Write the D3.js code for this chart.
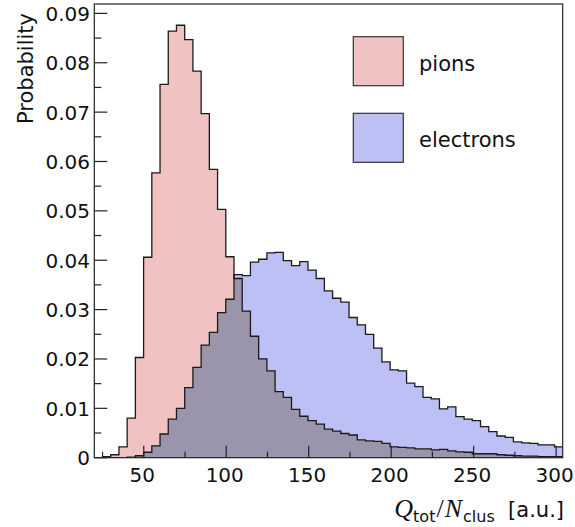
<!DOCTYPE html>
<html>
<head>
<meta charset="utf-8">
<script src="https://cdn.jsdelivr.net/npm/d3@7"></script>
<style>
  html, body { margin: 0; padding: 0; background: #fff; }
  svg { display: block; }
</style>
</head>
<body>
<svg id="chart" width="575" height="527"></svg>
<script>
// ---- data ----
const xDomain = [20, 304];
const nBins = 57;
const pions = [
  0, 0.0002, 0.0006, 0.0022, 0.0080, 0.0203, 0.0406, 0.0577, 0.0756, 0.0864,
  0.0876, 0.0847, 0.0783, 0.0697, 0.0584, 0.0503, 0.0407, 0.0363, 0.0297, 0.0246,
  0.0200, 0.0176, 0.0134, 0.0122, 0.0098, 0.0084, 0.0075, 0.0068, 0.0058, 0.0054,
  0.0049, 0.0046, 0.0036, 0.0034, 0.0033, 0.0029, 0.0022, 0.0021, 0.0020, 0.0018,
  0.0018, 0.0016, 0.0017, 0.0014, 0.0012, 0.0011, 0.0008, 0.0008, 0.0008, 0.0006,
  0.0005, 0.0004, 0.0003, 0.0003, 0.0002, 0.0002, 0.0002
];
const electrons = [
  0, 0, 0, 0, 0.0001, 0.0004, 0.0011, 0.0024, 0.0048, 0.0078,
  0.0100, 0.0142, 0.0183, 0.0228, 0.0254, 0.0294, 0.0321, 0.0371, 0.0369, 0.0396,
  0.0402, 0.0415, 0.0416, 0.0399, 0.0389, 0.0397, 0.0380, 0.0363, 0.0338, 0.0323,
  0.0315, 0.0284, 0.0269, 0.0250, 0.0222, 0.0194, 0.0178, 0.0176, 0.0151, 0.0144,
  0.0122, 0.0119, 0.0099, 0.0103, 0.0083, 0.0078, 0.0075, 0.0063, 0.0053, 0.0044,
  0.0041, 0.0032, 0.0030, 0.0029, 0.0026, 0.0026, 0.0022
];
const yTicks = [0, 0.01, 0.02, 0.03, 0.04, 0.05, 0.06, 0.07, 0.08, 0.09];
const yTickLabels = ["0", "0.01", "0.02", "0.03", "0.04", "0.05", "0.06", "0.07", "0.08", "0.09"];
const xTicks = [50, 100, 150, 200, 250, 300];
const xTickLabels = ["50", "100", "150", "200", "250", "300"];
const legendLabels = ["pions", "electrons"];

// ---- layout ----
const L = 94.3, R = 562.7, T = 4, B = 457.7;
const colPion = "#f0c2c2", colElec = "#bcc0f4", colOverlap = "#9b95ab";
const font = "'DejaVu Sans', sans-serif";

const svg = d3.select("#chart");
const x = d3.scaleLinear().domain(xDomain).range([L, R]);
const y = d3.scaleLinear().domain([0, 0.0919]).range([B, T]);
const bw = (xDomain[1] - xDomain[0]) / nBins;

function pts(vals) {
  const p = vals.map((v, i) => [xDomain[0] + i * bw, v]);
  p.push([xDomain[1], vals[vals.length - 1]]);
  return p;
}
const overlap = pions.map((v, i) => Math.min(v, electrons[i]));

const area = d3.area().curve(d3.curveStepAfter)
  .x(d => x(d[0])).y0(y(0)).y1(d => y(d[1]));
const line = d3.line().curve(d3.curveStepAfter)
  .x(d => x(d[0])).y(d => y(d[1]));

svg.append("defs").append("clipPath").attr("id", "clip")
  .append("rect").attr("x", L).attr("y", T).attr("width", R - L).attr("height", B - T);

const g = svg.append("g").attr("clip-path", "url(#clip)");
g.append("path").attr("d", area(pts(pions))).attr("fill", colPion);
g.append("path").attr("d", area(pts(electrons))).attr("fill", colElec);
g.append("path").attr("d", area(pts(overlap))).attr("fill", colOverlap);
g.append("path").attr("d", line(pts(pions))).attr("fill", "none").attr("stroke", "#1a1a1a").attr("stroke-width", 1.3);
g.append("path").attr("d", line(pts(electrons))).attr("fill", "none").attr("stroke", "#1a1a1a").attr("stroke-width", 1.3);

// frame
svg.append("rect").attr("x", L).attr("y", T).attr("width", R - L).attr("height", B - T)
  .attr("fill", "none").attr("stroke", "#222").attr("stroke-width", 1.2);

// y ticks (inside)
const yMinor = d3.range(0, 0.0919, 0.005);
svg.append("g").selectAll("line").data(yMinor).join("line")
  .attr("x1", L).attr("x2", (d, i) => L + (i % 2 === 0 ? 13 : 7))
  .attr("y1", d => y(d)).attr("y2", d => y(d))
  .attr("stroke", "#222").attr("stroke-width", 1.2);
svg.append("g").selectAll("text").data(yTicks).join("text")
  .attr("x", 90).attr("y", d => y(d) + 7.5)
  .attr("text-anchor", "end").attr("font-family", font).attr("font-size", 20)
  .attr("fill", "#111").text((d, i) => yTickLabels[i]);

// x ticks (inside)
const xMinor = d3.range(25, 304, 25);
svg.append("g").selectAll("line").data(xMinor).join("line")
  .attr("x1", d => x(d)).attr("x2", d => x(d))
  .attr("y1", B).attr("y2", d => B - (d % 50 === 0 ? 12 : 6))
  .attr("stroke", "#222").attr("stroke-width", 1.2);
svg.append("g").selectAll("text").data(xTicks).join("text")
  .attr("x", d => x(d) - 1.5).attr("y", 482)
  .attr("text-anchor", "middle").attr("font-family", font).attr("font-size", 20)
  .attr("fill", "#111").text((d, i) => xTickLabels[i]);

// y title
svg.append("text")
  .attr("transform", "translate(33,13) rotate(-90)")
  .attr("text-anchor", "end").attr("font-family", font).attr("font-size", 21)
  .attr("fill", "#111").text("Probability");

// x title
const xt = svg.append("text").attr("x", 564).attr("y", 517)
  .attr("text-anchor", "end").attr("fill", "#111");
const serif = "'Liberation Serif', 'DejaVu Serif', serif";
xt.append("tspan").attr("font-family", serif).attr("font-style", "italic").attr("font-size", 26).text("Q");
xt.append("tspan").attr("font-family", font).attr("font-size", 16).attr("dy", 5).text("tot");
xt.append("tspan").attr("font-family", serif).attr("font-size", 26).attr("dy", -5).attr("dx", 1).text("/");
xt.append("tspan").attr("font-family", serif).attr("font-style", "italic").attr("font-size", 26).attr("dx", 1).text("N");
xt.append("tspan").attr("font-family", font).attr("font-size", 16).attr("dy", 5).attr("dx", 1).text("clus");
xt.append("tspan").attr("font-family", font).attr("font-size", 21).attr("dy", -5).text("\u00a0\u00a0[a.u.]");

// legend
const legCols = [colPion, colElec];
const legY = [36.7, 113.3];
const leg = svg.append("g");
legendLabels.forEach((lab, i) => {
  leg.append("rect").attr("x", 353.3).attr("y", legY[i]).attr("width", 50).attr("height", 49)
    .attr("fill", legCols[i]).attr("stroke", "#333").attr("stroke-width", 1.2);
  leg.append("text").attr("x", 419).attr("y", legY[i] + 34)
    .attr("font-family", font).attr("font-size", 21).attr("fill", "#111").text(lab);
});
</script>
</body>
</html>
